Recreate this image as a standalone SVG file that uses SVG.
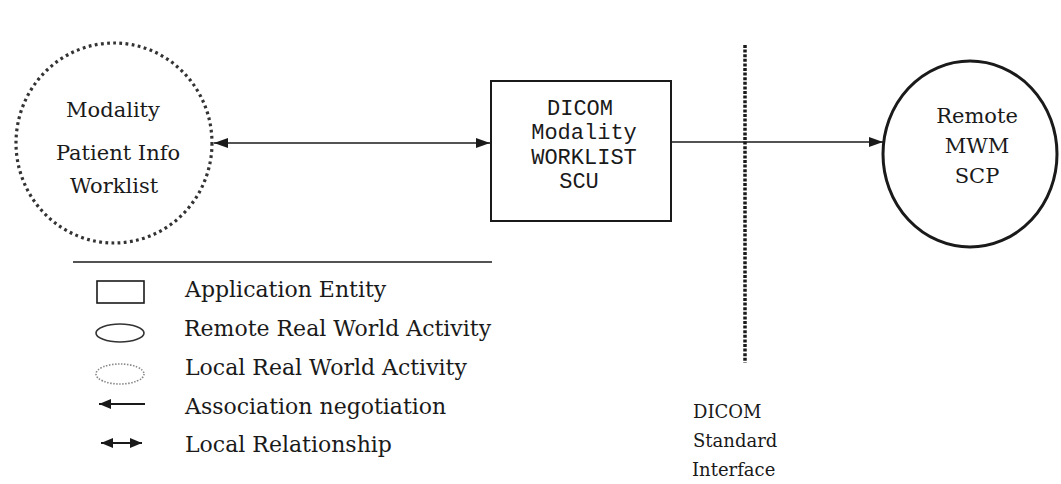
<svg xmlns="http://www.w3.org/2000/svg" width="1061" height="484" viewBox="0 0 1061 484">
<defs>
<style>
.serif{font-family:"DejaVu Serif","Liberation Serif",serif;fill:#1a1a1a;}
.mono{font-family:"Liberation Mono","DejaVu Sans Mono",monospace;fill:#1a1a1a;font-size:22px;}
.line{stroke:#1a1a1a;stroke-width:1.5;fill:none;}
.lg{stroke:#1a1a1a;stroke-width:2.2;fill:none;}
</style>
<marker id="ah" viewBox="0 0 14 10" refX="14" refY="5" markerWidth="14" markerHeight="10" markerUnits="userSpaceOnUse" orient="auto-start-reverse">
<path d="M0,0 L14,5 L0,10 Z" fill="#1a1a1a"/>
</marker>
<marker id="ah2" viewBox="0 0 12 10" refX="12" refY="5" markerWidth="12" markerHeight="10" markerUnits="userSpaceOnUse" orient="auto-start-reverse">
<path d="M0,0 L12,5 L0,10 Z" fill="#1a1a1a"/>
</marker>
</defs>
<rect width="1061" height="484" fill="#ffffff"/>

<g id="local-activity">
<ellipse cx="114" cy="143" rx="98" ry="100" fill="none" stroke="#333" stroke-width="3.2" stroke-dasharray="2.8 3.4"/>
<text class="serif" font-size="21" text-anchor="middle" x="113" y="117">Modality</text>
<text class="serif" font-size="21" text-anchor="middle" x="118" y="160">Patient Info</text>
<text class="serif" font-size="21" text-anchor="middle" x="114" y="193">Worklist</text>
</g>

<g id="ae-box">
<rect x="491" y="81" width="180" height="140" fill="none" stroke="#1a1a1a" stroke-width="2"/>
<text class="mono" text-anchor="middle" x="580" y="115">DICOM</text>
<text class="mono" text-anchor="middle" x="584" y="139">Modality</text>
<text class="mono" text-anchor="middle" x="584" y="164">WORKLIST</text>
<text class="mono" text-anchor="middle" x="579" y="188">SCU</text>
</g>

<g id="remote-activity">
<ellipse cx="970" cy="154" rx="87" ry="93" fill="none" stroke="#1a1a1a" stroke-width="3"/>
<text class="serif" font-size="21" text-anchor="middle" x="977" y="123">Remote</text>
<text class="serif" font-size="21" text-anchor="middle" x="977" y="153">MWM</text>
<text class="serif" font-size="21" text-anchor="middle" x="977" y="183">SCP</text>
</g>

<g id="interface">
<line x1="745" y1="45" x2="745" y2="363" stroke="#1a1a1a" stroke-width="3.5" stroke-dasharray="3 1.6"/>
<text class="serif" font-size="18" x="693" y="418">DICOM</text>
<text class="serif" font-size="18" x="693" y="447">Standard</text>
<text class="serif" font-size="18" x="692" y="476">Interface</text>
</g>

<g id="connectors">
<line class="line" x1="214" y1="143" x2="490" y2="143" marker-start="url(#ah)" marker-end="url(#ah)"/>
<line class="line" x1="671" y1="142" x2="883" y2="142" marker-end="url(#ah)"/>
</g>

<g id="legend">
<line x1="73" y1="262" x2="492" y2="262" stroke="#1a1a1a" stroke-width="1.5"/>
<rect x="97" y="281" width="47" height="22" fill="none" stroke="#1a1a1a" stroke-width="1.6"/>
<ellipse cx="120" cy="333" rx="24" ry="9" fill="none" stroke="#333" stroke-width="1.6"/>
<ellipse cx="120" cy="374" rx="24" ry="10" fill="none" stroke="#888" stroke-width="1.6" stroke-dasharray="1.5 1.5"/>
<line class="lg" x1="99" y1="404" x2="145" y2="404" marker-start="url(#ah2)"/>
<line class="lg" x1="101" y1="443" x2="142" y2="443" marker-start="url(#ah2)" marker-end="url(#ah2)"/>
<text class="serif" font-size="22" x="185" y="297">Application Entity</text>
<text class="serif" font-size="22" x="184" y="336">Remote Real World Activity</text>
<text class="serif" font-size="22" x="185" y="375">Local Real World Activity</text>
<text class="serif" font-size="22" x="185" y="414">Association negotiation</text>
<text class="serif" font-size="22" x="185" y="452">Local Relationship</text>
</g>
</svg>
